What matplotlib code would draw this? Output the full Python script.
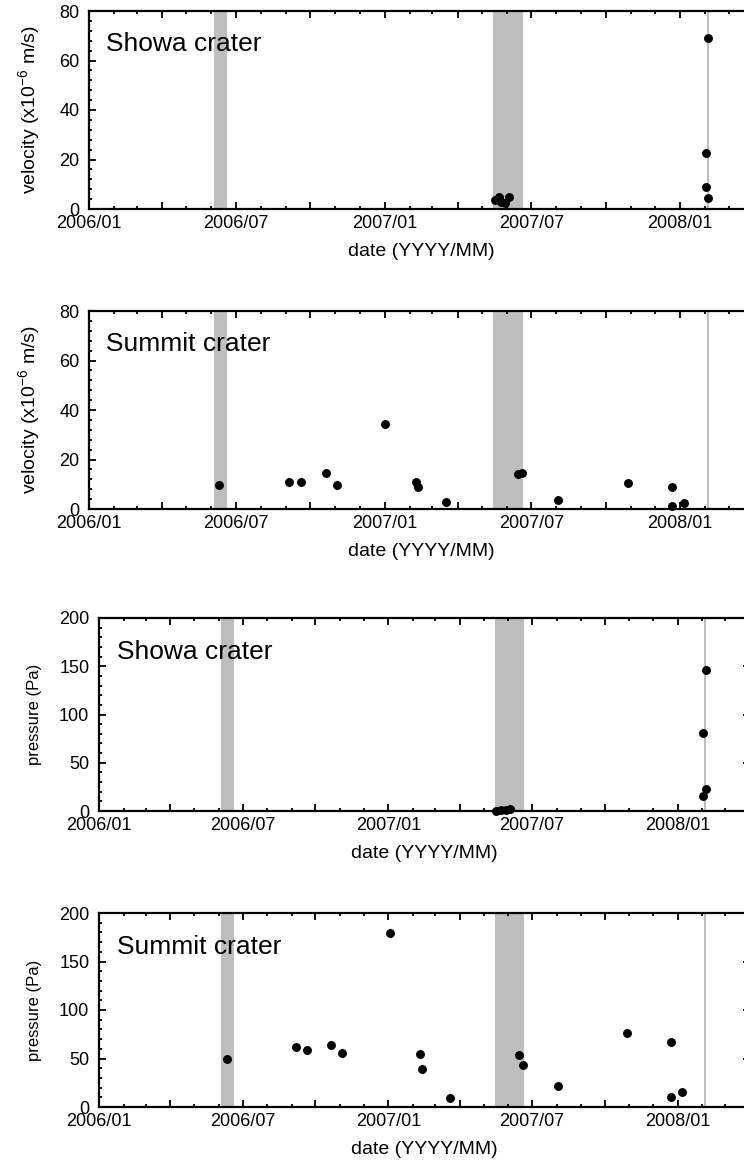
import pandas as pd
import matplotlib
matplotlib.use("Agg")
import matplotlib.pyplot as plt
import matplotlib.dates as mdates
from matplotlib.ticker import MultipleLocator, FuncFormatter

plt.rcParams["font.family"] = ["Liberation Sans", "DejaVu Sans"]
plt.rcParams["mathtext.fontset"] = "custom"
plt.rcParams["mathtext.rm"] = "Liberation Sans"
plt.rcParams["mathtext.it"] = "Liberation Sans:italic"

# eruption periods (shaded)
span_start = ["2006-06-04", "2007-05-15", "2008-02-03"]
span_end = ["2006-06-20", "2007-06-21", "2008-02-06"]

# velocity, Showa crater
showa_vel_date = ["2007-05-17", "2007-05-22", "2007-05-25", "2007-05-30", "2007-06-04",
                  "2008-02-02", "2008-02-02", "2008-02-04", "2008-02-04"]
showa_vel = [3.6, 5.0, 3.0, 2.3, 4.7, 22.5, 8.8, 69.0, 4.3]

# velocity, Summit crater
summit_vel_date = ["2006-06-11", "2006-09-05", "2006-09-20", "2006-10-20", "2006-11-03",
                   "2007-01-01", "2007-02-09", "2007-02-11", "2007-03-18", "2007-06-15",
                   "2007-06-19", "2007-08-03", "2007-10-28", "2007-12-22", "2007-12-22",
                   "2008-01-05"]
summit_vel = [9.6, 10.9, 10.9, 14.7, 9.6, 34.3, 11.0, 9.0, 2.7, 14.1,
              14.4, 3.8, 10.6, 9.0, 1.3, 2.4]

# pressure, Showa crater
showa_p_date = ["2007-05-17", "2007-05-23", "2007-05-29", "2007-06-03",
                "2008-02-02", "2008-02-05", "2008-02-05", "2008-02-02"]
showa_p = [0.5, 1.5, 1.0, 1.8, 81.0, 145.8, 22.5, 15.9]

# pressure, Summit crater
summit_p_date = ["2006-06-12", "2006-09-06", "2006-09-20", "2006-10-21", "2006-11-04",
                 "2007-01-03", "2007-02-10", "2007-02-12", "2007-03-20", "2007-06-15",
                 "2007-06-20", "2007-08-03", "2007-10-29", "2007-12-23", "2007-12-23",
                 "2008-01-06"]
summit_p = [49.2, 61.9, 58.4, 63.6, 55.3, 179.7, 54.3, 39.2, 9.6, 53.6,
            43.3, 21.3, 76.6, 66.7, 10.3, 15.8]

W, H = 744, 1169


def date_label(x, pos):
    d = mdates.num2date(x)
    if d.month in (1, 7):
        return d.strftime("%Y/%m")
    return ""


def panel(rect, dates, values, title, ylabel, ylab_size, ymax, ymajor, yminor, text_pos):
    ax = fig.add_axes(rect)
    for s, e in zip(span_start, span_end):
        ax.axvspan(pd.Timestamp(s), pd.Timestamp(e), color="#bebebe", lw=0, zorder=0)
    ax.plot(pd.to_datetime(dates), values, "o", color="black", ms=5.4, zorder=3, clip_on=False)

    ax.set_xlim(pd.Timestamp("2006-01-01"), pd.Timestamp("2008-04-01"))
    ax.set_ylim(0, ymax)
    ax.xaxis.set_major_locator(mdates.MonthLocator(bymonth=[1, 4, 7, 10]))
    ax.xaxis.set_minor_locator(mdates.MonthLocator())
    ax.xaxis.set_major_formatter(FuncFormatter(date_label))
    ax.yaxis.set_major_locator(MultipleLocator(ymajor))
    ax.yaxis.set_minor_locator(MultipleLocator(yminor))

    ax.tick_params(which="both", direction="in", top=True, right=True, width=1.3)
    ax.tick_params(which="major", length=5)
    ax.tick_params(which="minor", length=2.5)
    ax.tick_params(axis="x", which="major", labelsize=13, pad=4)
    ax.tick_params(axis="y", which="major", labelsize=13, pad=7)
    for sp in ax.spines.values():
        sp.set_linewidth(1.6)

    ax.set_xlabel("date (YYYY/MM)", fontsize=14, labelpad=8)
    ax.set_ylabel(ylabel, fontsize=ylab_size, labelpad=12)
    ax.text(text_pos[0], text_pos[1], title, transform=ax.transAxes,
            fontsize=19, va="baseline", ha="left")
    return ax


fig = plt.figure(figsize=(W / 100, H / 100), dpi=100)

vel_label = r"velocity (x10$^{\mathrm{-6}}$ m/s)"

panel([89 / W, 1 - 209 / H, 665 / W, 198 / H], showa_vel_date, showa_vel,
      "Showa crater", vel_label, 14, 80, 20, 4, (0.026, 0.80))
panel([89 / W, 1 - 509 / H, 665 / W, 198 / H], summit_vel_date, summit_vel,
      "Summit crater", vel_label, 14, 80, 20, 4, (0.026, 0.80))
panel([99 / W, 1 - 811 / H, 651 / W, 193 / H], showa_p_date, showa_p,
      "Showa crater", "pressure (Pa)", 12, 200, 50, 10, (0.028, 0.79))
panel([99 / W, 1 - 1107 / H, 651 / W, 194 / H], summit_p_date, summit_p,
      "Summit crater", "pressure (Pa)", 12, 200, 50, 10, (0.028, 0.79))

fig.savefig("out.png", dpi=100)
